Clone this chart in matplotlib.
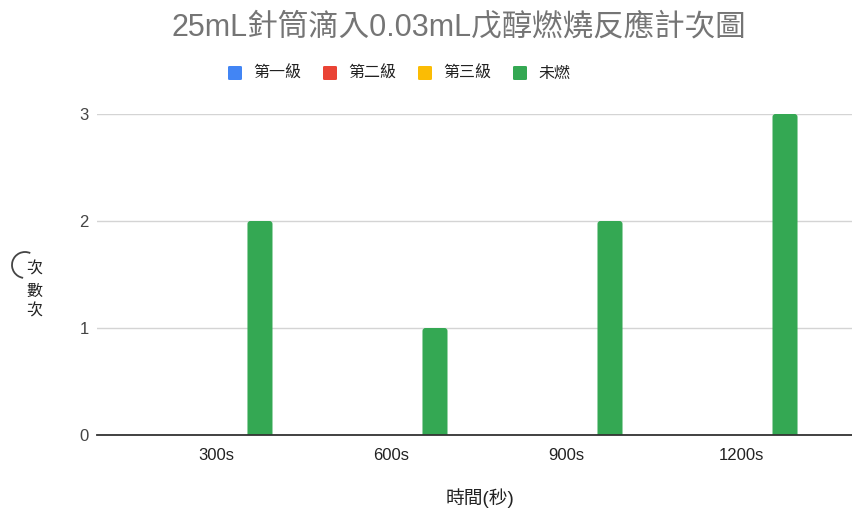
import matplotlib
matplotlib.use("Agg")
import matplotlib.pyplot as plt
from matplotlib.patches import FancyBboxPatch, Arc
import numpy as np

plt.rcParams['font.family'] = ['Liberation Sans', 'Noto Sans CJK TC', 'DejaVu Sans']

# data
times = ["300s", "600s", "900s", "1200s"]
series_names = ["第一級", "第二級", "第三級", "未燃"]
level1 = [0, 0, 0, 0]
level2 = [0, 0, 0, 0]
level3 = [0, 0, 0, 0]
unburned = [2, 1, 2, 3]
colors = ["#4285F4", "#EA4335", "#FBBC04", "#34A853"]

W, H = 852, 513
fig = plt.figure(figsize=(W / 100, H / 100), dpi=100)
ax = fig.add_axes([97 / W, (H - 435) / H, (W - 97) / W, 321 / H])

x = np.arange(len(times))
slot = 0.1675
bw = 0.143
all_series = [level1, level2, level3, unburned]

# px per data unit, used to keep the rounded tops circular
px_x = 175.0
px_y = 107.0
r = 3.0 / px_x
for j, vals in enumerate(all_series):
    offs = (j - 1.5) * slot
    bars = ax.bar(x + offs, vals, width=bw, color=colors[j], label=series_names[j])
    for b in bars:
        b.set_visible(False)
        if b.get_height() <= 0:
            continue
        ext = 0.1
        fb = FancyBboxPatch((b.get_x(), -ext), b.get_width(), b.get_height() + ext,
                            boxstyle=f"round,pad=0,rounding_size={r}",
                            mutation_aspect=px_x / px_y,
                            facecolor=colors[j], edgecolor="none", zorder=2)
        ax.add_patch(fb)

ax.set_xlim(-0.68, 3.634)
ax.set_ylim(0, 3)
ax.set_yticks([0, 1, 2, 3])
ax.set_xticks(x)
ax.set_xticklabels(times)
ax.yaxis.grid(True, color="#d4d4d4", linewidth=1)
ax.set_axisbelow(True)
for s in ["top", "right", "left"]:
    ax.spines[s].set_visible(False)
ax.spines["bottom"].set_color("#333333")
ax.spines["bottom"].set_linewidth(1.3)
ax.spines["bottom"].set_zorder(3)
ax.tick_params(axis="both", length=0, labelsize=12, labelcolor="#222222")
ax.tick_params(axis="y", pad=6, labelcolor="#444444")
ax.tick_params(axis="x", pad=9)

# title
fig.text(459 / W, 1 - 27 / H, "25mL針筒滴入0.03mL戊醇燃燒反應計次圖",
         ha="center", va="center", fontsize=22, color="#757575")

# legend row
leg_x = [228, 323, 418, 513]
leg_y = 73
for lx, name, c in zip(leg_x, series_names, colors):
    fig.patches.append(FancyBboxPatch((lx / W, (H - leg_y - 7) / H), 14 / W, 14 / H,
                                      boxstyle="round,pad=0,rounding_size=0.002",
                                      transform=fig.transFigure, facecolor=c,
                                      edgecolor="none"))
    fig.text((lx + 25) / W, 1 - leg_y / H, name, ha="left", va="center",
             fontsize=11.5, color="#222222")

# axis titles
fig.text(480 / W, 1 - 498 / H, "時間(秒)", ha="center", va="center",
         fontsize=13.5, color="#222222")
# the bracket of the vertical y title
fig.patches.append(Arc((25 / W, 1 - 265 / H), 26 / W, 26 / H, theta1=75, theta2=265,
                       transform=fig.transFigure, color="#444444", lw=1.3))
for ch, yy in zip(["次", "數", "次"], [269, 291, 311]):
    fig.text(34 / W, 1 - yy / H, ch, ha="center", va="center",
             fontsize=11.5, color="#222222")

fig.savefig("out.png", dpi=100)
